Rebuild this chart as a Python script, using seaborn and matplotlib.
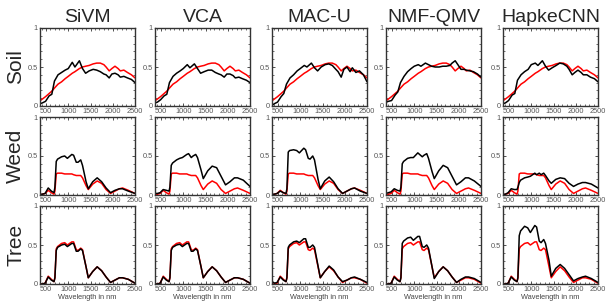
import numpy as np
import matplotlib
matplotlib.use("Agg")
import matplotlib.pyplot as plt
from matplotlib.ticker import MultipleLocator
import seaborn as sns

# ── data ────────────────────────────────────────────────────
methods = ["SiVM", "VCA", "MAC-U", "NMF-QMV", "HapkeCNN"]
materials = ["Soil", "Weed", "Tree"]

soil_wl = [370, 420, 490, 570, 630, 690, 770, 850, 930, 1000, 1090, 1150, 1250, 1320, 1390,
           1470, 1560, 1640, 1720, 1800, 1850, 1920, 1980, 2050, 2120, 2170, 2250, 2330, 2420, 2500]
veg_wl = [370, 420, 480, 550, 620, 680, 700, 730, 760, 850, 920, 980, 1080, 1120, 1180,
          1220, 1280, 1320, 1400, 1450, 1550, 1650, 1750, 1850, 1950, 2050, 2150, 2220, 2350, 2500]

# reference spectra (red)
soil_ref = [0.07, 0.09, 0.12, 0.16, 0.19, 0.23, 0.28, 0.31, 0.35, 0.38, 0.42, 0.44, 0.48, 0.50, 0.51,
            0.52, 0.54, 0.55, 0.55, 0.53, 0.50, 0.45, 0.48, 0.51, 0.48, 0.45, 0.46, 0.43, 0.40, 0.36]
weed_ref = [0.00, 0.01, 0.02, 0.06, 0.03, 0.01, 0.05, 0.27, 0.28, 0.28, 0.27, 0.27, 0.27, 0.26, 0.25,
            0.25, 0.25, 0.22, 0.12, 0.07, 0.14, 0.18, 0.15, 0.07, 0.02, 0.05, 0.08, 0.09, 0.06, 0.02]
tree_ref = [0.00, 0.00, 0.01, 0.10, 0.06, 0.03, 0.08, 0.45, 0.48, 0.52, 0.53, 0.50, 0.54, 0.54, 0.44,
            0.43, 0.46, 0.44, 0.22, 0.08, 0.16, 0.22, 0.17, 0.09, 0.02, 0.05, 0.08, 0.08, 0.06, 0.01]

# estimated spectra (black), one list per method
soil_est = {
    "SiVM":     [0.03, 0.04, 0.06, 0.13, 0.15, 0.32, 0.40, 0.43, 0.46, 0.48, 0.56, 0.50, 0.58, 0.48, 0.42,
                 0.45, 0.47, 0.46, 0.44, 0.41, 0.40, 0.36, 0.41, 0.42, 0.40, 0.37, 0.38, 0.36, 0.34, 0.30],
    "VCA":      [0.04, 0.05, 0.08, 0.13, 0.15, 0.30, 0.38, 0.42, 0.45, 0.48, 0.53, 0.49, 0.54, 0.48, 0.42,
                 0.44, 0.46, 0.46, 0.43, 0.41, 0.40, 0.37, 0.41, 0.41, 0.39, 0.36, 0.37, 0.35, 0.33, 0.30],
    "MAC-U":    [0.01, 0.03, 0.05, 0.12, 0.16, 0.28, 0.36, 0.40, 0.45, 0.48, 0.52, 0.50, 0.55, 0.49, 0.45,
                 0.50, 0.53, 0.54, 0.52, 0.47, 0.44, 0.37, 0.47, 0.50, 0.44, 0.49, 0.43, 0.45, 0.40, 0.31],
    "NMF-QMV":  [0.05, 0.06, 0.07, 0.14, 0.18, 0.30, 0.38, 0.44, 0.48, 0.51, 0.53, 0.51, 0.55, 0.53, 0.51,
                 0.50, 0.50, 0.51, 0.51, 0.52, 0.55, 0.58, 0.53, 0.47, 0.47, 0.46, 0.45, 0.44, 0.41, 0.37],
    "HapkeCNN": [0.03, 0.04, 0.07, 0.14, 0.16, 0.33, 0.40, 0.44, 0.47, 0.53, 0.55, 0.52, 0.58, 0.51, 0.46,
                 0.49, 0.52, 0.55, 0.54, 0.51, 0.47, 0.40, 0.43, 0.46, 0.43, 0.40, 0.40, 0.37, 0.35, 0.31],
}
weed_est = {
    "SiVM":     [0.01, 0.01, 0.02, 0.09, 0.05, 0.03, 0.10, 0.43, 0.46, 0.49, 0.50, 0.47, 0.52, 0.51, 0.42,
                 0.42, 0.45, 0.38, 0.17, 0.08, 0.17, 0.22, 0.17, 0.09, 0.03, 0.06, 0.08, 0.08, 0.05, 0.02],
    "VCA":      [0.02, 0.02, 0.03, 0.07, 0.06, 0.05, 0.10, 0.38, 0.41, 0.45, 0.47, 0.48, 0.52, 0.53, 0.48,
                 0.50, 0.52, 0.48, 0.32, 0.21, 0.31, 0.37, 0.35, 0.24, 0.13, 0.17, 0.22, 0.22, 0.19, 0.11],
    "MAC-U":    [0.01, 0.01, 0.02, 0.05, 0.03, 0.02, 0.08, 0.55, 0.57, 0.58, 0.57, 0.54, 0.60, 0.58, 0.47,
                 0.46, 0.50, 0.45, 0.20, 0.08, 0.18, 0.23, 0.17, 0.08, 0.02, 0.05, 0.08, 0.09, 0.05, 0.02],
    "NMF-QMV":  [0.02, 0.03, 0.04, 0.08, 0.06, 0.05, 0.10, 0.40, 0.43, 0.47, 0.48, 0.48, 0.54, 0.52, 0.49,
                 0.51, 0.53, 0.47, 0.30, 0.21, 0.31, 0.38, 0.35, 0.24, 0.13, 0.17, 0.22, 0.22, 0.18, 0.11],
    "HapkeCNN": [0.01, 0.01, 0.03, 0.08, 0.07, 0.07, 0.10, 0.16, 0.19, 0.22, 0.23, 0.24, 0.28, 0.26, 0.28,
                 0.26, 0.28, 0.25, 0.18, 0.15, 0.20, 0.22, 0.21, 0.15, 0.11, 0.14, 0.16, 0.16, 0.14, 0.09],
}
tree_est = {
    "SiVM":     [0.00, 0.00, 0.01, 0.09, 0.05, 0.03, 0.08, 0.43, 0.47, 0.50, 0.51, 0.48, 0.52, 0.52, 0.42,
                 0.42, 0.45, 0.43, 0.22, 0.08, 0.16, 0.22, 0.17, 0.09, 0.02, 0.05, 0.08, 0.08, 0.06, 0.01],
    "VCA":      [0.00, 0.00, 0.01, 0.09, 0.05, 0.03, 0.08, 0.43, 0.47, 0.50, 0.51, 0.48, 0.52, 0.52, 0.42,
                 0.42, 0.45, 0.43, 0.22, 0.08, 0.16, 0.22, 0.17, 0.09, 0.02, 0.05, 0.08, 0.08, 0.06, 0.01],
    "MAC-U":    [0.03, 0.01, 0.02, 0.09, 0.05, 0.03, 0.08, 0.47, 0.50, 0.54, 0.55, 0.53, 0.58, 0.58, 0.47,
                 0.47, 0.50, 0.47, 0.23, 0.08, 0.16, 0.23, 0.18, 0.09, 0.03, 0.05, 0.08, 0.09, 0.06, 0.02],
    "NMF-QMV":  [0.00, 0.00, 0.01, 0.09, 0.05, 0.03, 0.08, 0.52, 0.55, 0.59, 0.60, 0.56, 0.61, 0.61, 0.48,
                 0.47, 0.50, 0.46, 0.22, 0.07, 0.16, 0.22, 0.17, 0.09, 0.02, 0.06, 0.09, 0.09, 0.07, 0.02],
    "HapkeCNN": [0.00, 0.00, 0.01, 0.09, 0.05, 0.03, 0.08, 0.62, 0.68, 0.74, 0.72, 0.66, 0.75, 0.73, 0.55,
                 0.53, 0.57, 0.52, 0.30, 0.10, 0.20, 0.25, 0.20, 0.12, 0.04, 0.07, 0.09, 0.10, 0.07, 0.02],
}

rows = [
    (soil_wl, soil_ref, soil_est),
    (veg_wl, weed_ref, weed_est),
    (veg_wl, tree_ref, tree_est),
]

# ── style ────────────────────────────────────────────────────
sns.set_style("ticks")
plt.rcParams["font.family"] = ["Liberation Sans", "DejaVu Sans"]
plt.rcParams["xtick.direction"] = "in"
plt.rcParams["ytick.direction"] = "in"

fig = plt.figure(figsize=(6.06, 3.04), dpi=100)

col_left = [40, 155, 272, 386, 503]
row_bottom = [106, 195, 284]
W, H = 606, 304
aw, ah = 95 / W, 78 / H

for r, (wl, ref, est) in enumerate(rows):
    for c, m in enumerate(methods):
        ax = fig.add_axes([col_left[c] / W, 1 - row_bottom[r] / H, aw, ah])
        sns.lineplot(x=wl, y=ref, color="red", linewidth=1.1, ax=ax)
        sns.lineplot(x=wl, y=est[m], color="black", linewidth=1.1, ax=ax)
        ax.set_xlim(365, 2500)
        ax.set_ylim(0, 1)
        ax.set_xticks([500, 1000, 1500, 2000, 2500])
        ax.set_yticks([0, 0.5, 1])
        ax.set_yticklabels(["0", "0.5", "1"])
        ax.xaxis.set_minor_locator(MultipleLocator(100))
        ax.yaxis.set_minor_locator(MultipleLocator(0.1))
        ax.tick_params(which="both", top=True, right=True, labelsize=5.3,
                       labelcolor="#555555", color="#333333", pad=1.5)
        ax.tick_params(which="major", length=2, width=0.6)
        ax.tick_params(which="minor", length=1.2, width=0.5)
        for s in ax.spines.values():
            s.set_linewidth(1.0)
            s.set_color("#333333")
        if r == 2:
            ax.set_xlabel("Wavelength in nm", fontsize=5.3, color="#444444", labelpad=1)
        else:
            ax.set_xlabel("")
        if r == 0:
            ax.set_title(m, fontsize=14, pad=4)
        if c == 0:
            ax.set_ylabel(materials[r], fontsize=15, labelpad=2)

fig.savefig("out.png", dpi=100)
plt.close(fig)
